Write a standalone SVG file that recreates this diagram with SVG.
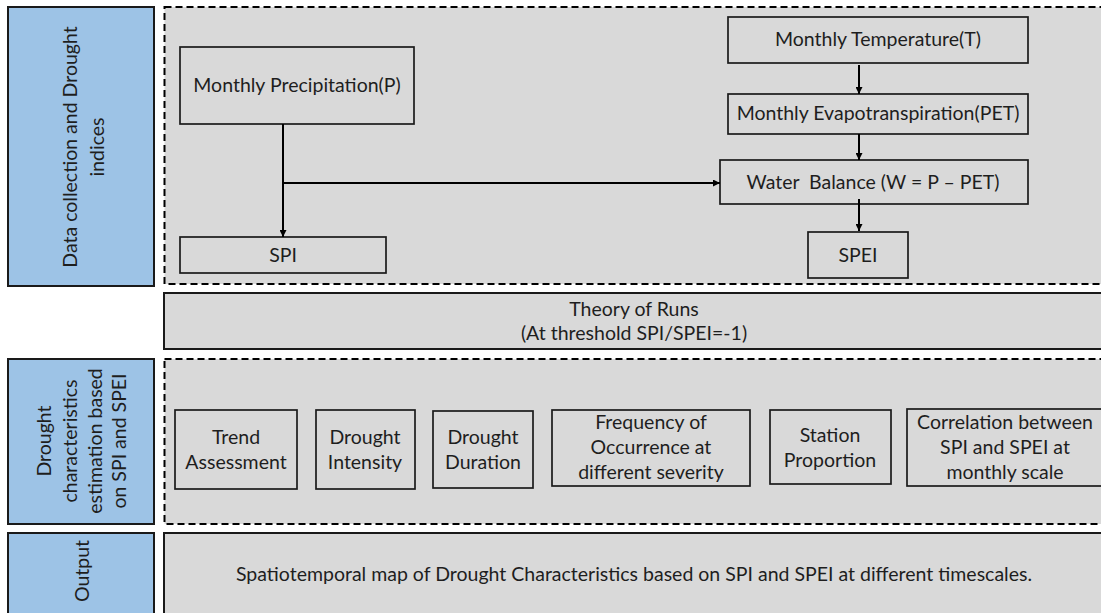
<svg xmlns="http://www.w3.org/2000/svg" width="1101" height="613" viewBox="0 0 1101 613">
<defs>
<marker id="ah" viewBox="0 0 10 10" refX="10" refY="5" markerWidth="7" markerHeight="7" markerUnits="userSpaceOnUse" orient="auto">
<path d="M0,0 L10,5 L0,10 z" fill="#000"/>
</marker>
<style>
.lane{fill:#9DC3E6;stroke:#1a1a1a;stroke-width:2}
.dash{fill:#D9D9D9;stroke:#000;stroke-width:2;stroke-dasharray:7 4}
.panel{fill:#D9D9D9;stroke:#1a1a1a;stroke-width:2}
.node{fill:#D9D9D9;stroke:#1a1a1a;stroke-width:1.7}
text{font-family:Lato,"Liberation Sans",sans-serif;font-size:19.5px;fill:#1e1e1e;text-anchor:middle}
.conn{stroke:#000;stroke-width:2;fill:none}
</style>
</defs>
<rect width="1101" height="613" fill="#fff"/>

<g id="lane-data">
<rect class="lane" x="8" y="7" width="146" height="279"/>
<text transform="translate(77,147) rotate(-90)">Data collection and Drought</text>
<text transform="translate(104,147) rotate(-90)">indices</text>
</g>
<g id="panel-data">
<rect class="dash" x="164.5" y="7" width="945" height="277"/>
</g>

<g id="precip">
<rect class="node" x="180" y="47" width="234" height="77"/>
<text x="297" y="92">Monthly Precipitation(P)</text>
</g>
<g id="spi">
<rect class="node" x="180" y="237" width="206" height="36"/>
<text x="283" y="262">SPI</text>
</g>
<g id="temp">
<rect class="node" x="728" y="17" width="300" height="46"/>
<text x="878" y="46">Monthly Temperature(T)</text>
</g>
<g id="pet">
<rect class="node" x="728" y="94" width="300" height="40"/>
<text x="878" y="120">Monthly Evapotranspiration(PET)</text>
</g>
<g id="wb">
<rect class="node" x="720" y="160" width="308" height="44"/>
<text x="873" y="189" xml:space="preserve">Water  Balance (W = P – PET)</text>
</g>
<g id="spei">
<rect class="node" x="808" y="232" width="100" height="46"/>
<text x="858" y="262">SPEI</text>
</g>

<g id="theory">
<rect class="panel" x="164" y="293" width="945" height="56"/>
<text x="634" y="316">Theory of Runs</text>
<text x="634" y="340">(At threshold SPI/SPEI=-1)</text>
</g>

<g id="lane-char">
<rect class="lane" x="8" y="359" width="146" height="165"/>
<text transform="translate(51,441) rotate(-90)">Drought</text>
<text transform="translate(77,441) rotate(-90)">characteristics</text>
<text transform="translate(102,441) rotate(-90)">estimation based</text>
<text transform="translate(126,441) rotate(-90)">on SPI and SPEI</text>
</g>
<g id="panel-char">
<rect class="dash" x="164.5" y="359" width="945" height="165"/>
</g>

<g id="trend">
<rect class="node" x="175" y="410" width="122" height="79"/>
<text x="236" y="444">Trend</text>
<text x="236" y="469">Assessment</text>
</g>
<g id="intensity">
<rect class="node" x="316" y="410" width="99" height="79"/>
<text x="365" y="444">Drought</text>
<text x="365" y="469">Intensity</text>
</g>
<g id="duration">
<rect class="node" x="433" y="411" width="100" height="77"/>
<text x="483" y="444">Drought</text>
<text x="483" y="469">Duration</text>
</g>
<g id="frequency">
<rect class="node" x="552" y="410" width="198" height="76"/>
<text x="651" y="429">Frequency of</text>
<text x="651" y="454">Occurrence at</text>
<text x="651" y="479">different severity</text>
</g>
<g id="station">
<rect class="node" x="770" y="410" width="121" height="74"/>
<text x="830" y="442">Station</text>
<text x="830" y="467">Proportion</text>
</g>
<g id="correlation">
<rect class="node" x="907" y="409" width="200" height="77"/>
<text x="1005" y="429">Correlation between</text>
<text x="1005" y="454">SPI and SPEI at</text>
<text x="1005" y="479">monthly scale</text>
</g>

<g id="lane-output">
<rect class="lane" x="8" y="533" width="146" height="90"/>
<text transform="translate(89,571) rotate(-90)">Output</text>
</g>
<g id="output">
<rect class="panel" x="164" y="533" width="945" height="90"/>
<text x="634" y="581">Spatiotemporal map of Drought Characteristics based on SPI and SPEI at different timescales.</text>
</g>

<g id="connectors">
<line class="conn" x1="283" y1="124" x2="283" y2="237" marker-end="url(#ah)"/>
<line class="conn" x1="282" y1="183" x2="720" y2="183" marker-end="url(#ah)"/>
<line class="conn" x1="859" y1="65" x2="859" y2="94" marker-end="url(#ah)"/>
<line class="conn" x1="859" y1="134" x2="859" y2="160" marker-end="url(#ah)"/>
<line class="conn" x1="859" y1="199" x2="859" y2="231" marker-end="url(#ah)"/>
</g>
</svg>
